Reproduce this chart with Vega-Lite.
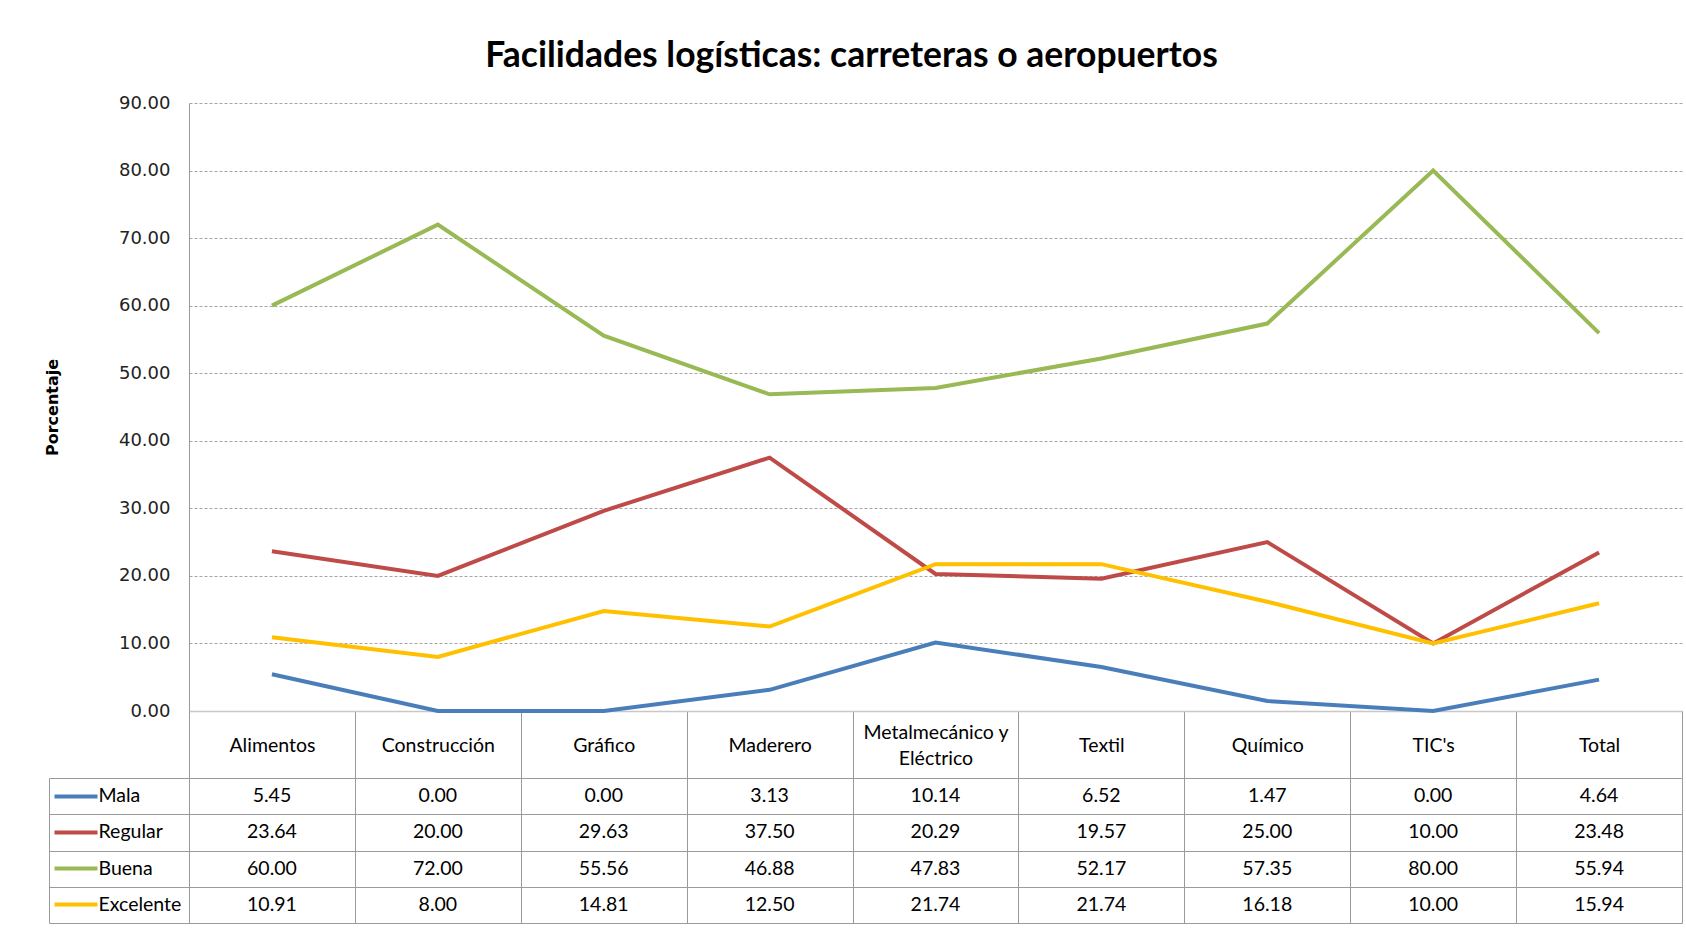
{
  "$schema": "https://vega.github.io/schema/vega-lite/v6.json",
  "padding": {"left": 44, "top": 38, "right": 6, "bottom": 4},
  "background": "white",
  "title": {"text": "Facilidades logísticas: carreteras o aeropuertos", "font": "Lato", "fontWeight": "bold", "fontSize": 35.5, "color": "#000000", "anchor": "middle", "dx": -12, "offset": 20},
  "datasets": {
    "datos": [
      {"categoria": "Alimentos", "serie": "Mala", "valor": 5.45},
      {"categoria": "Construcción", "serie": "Mala", "valor": 0.00},
      {"categoria": "Gráfico", "serie": "Mala", "valor": 0.00},
      {"categoria": "Maderero", "serie": "Mala", "valor": 3.13},
      {"categoria": "Metalmecánico y Eléctrico", "serie": "Mala", "valor": 10.14},
      {"categoria": "Textil", "serie": "Mala", "valor": 6.52},
      {"categoria": "Químico", "serie": "Mala", "valor": 1.47},
      {"categoria": "TIC's", "serie": "Mala", "valor": 0.00},
      {"categoria": "Total", "serie": "Mala", "valor": 4.64},
      {"categoria": "Alimentos", "serie": "Regular", "valor": 23.64},
      {"categoria": "Construcción", "serie": "Regular", "valor": 20.00},
      {"categoria": "Gráfico", "serie": "Regular", "valor": 29.63},
      {"categoria": "Maderero", "serie": "Regular", "valor": 37.50},
      {"categoria": "Metalmecánico y Eléctrico", "serie": "Regular", "valor": 20.29},
      {"categoria": "Textil", "serie": "Regular", "valor": 19.57},
      {"categoria": "Químico", "serie": "Regular", "valor": 25.00},
      {"categoria": "TIC's", "serie": "Regular", "valor": 10.00},
      {"categoria": "Total", "serie": "Regular", "valor": 23.48},
      {"categoria": "Alimentos", "serie": "Buena", "valor": 60.00},
      {"categoria": "Construcción", "serie": "Buena", "valor": 72.00},
      {"categoria": "Gráfico", "serie": "Buena", "valor": 55.56},
      {"categoria": "Maderero", "serie": "Buena", "valor": 46.88},
      {"categoria": "Metalmecánico y Eléctrico", "serie": "Buena", "valor": 47.83},
      {"categoria": "Textil", "serie": "Buena", "valor": 52.17},
      {"categoria": "Químico", "serie": "Buena", "valor": 57.35},
      {"categoria": "TIC's", "serie": "Buena", "valor": 80.00},
      {"categoria": "Total", "serie": "Buena", "valor": 55.94},
      {"categoria": "Alimentos", "serie": "Excelente", "valor": 10.91},
      {"categoria": "Construcción", "serie": "Excelente", "valor": 8.00},
      {"categoria": "Gráfico", "serie": "Excelente", "valor": 14.81},
      {"categoria": "Maderero", "serie": "Excelente", "valor": 12.50},
      {"categoria": "Metalmecánico y Eléctrico", "serie": "Excelente", "valor": 21.74},
      {"categoria": "Textil", "serie": "Excelente", "valor": 21.74},
      {"categoria": "Químico", "serie": "Excelente", "valor": 16.18},
      {"categoria": "TIC's", "serie": "Excelente", "valor": 10.00},
      {"categoria": "Total", "serie": "Excelente", "valor": 15.94}
    ]
  },
  "spacing": 67,
  "bounds": "flush",
  "config": {
    "view": {"stroke": null},
    "axis": {"labelFont": "Lato", "titleFont": "DejaVu Sans"}
  },
  "vconcat": [
    {
      "width": 1493,
      "height": 608,
      "data": {"name": "datos"},
      "mark": {"type": "line", "strokeWidth": 4, "interpolate": "linear"},
      "encoding": {
        "x": {
          "field": "categoria", "type": "nominal", "bandPosition": 0.5,
          "sort": ["Alimentos", "Construcción", "Gráfico", "Maderero", "Metalmecánico y Eléctrico", "Textil", "Químico", "TIC's", "Total"],
          "scale": {"type": "band", "paddingInner": 0, "paddingOuter": 0},
          "axis": {
            "title": null, "labelAngle": 0, "domain": true, "domainColor": "#c8c8c8", "domainWidth": 1.5,
            "ticks": true, "tickBand": "extent", "tickSize": 67, "tickColor": "#999999", "tickWidth": 1,
            "grid": false, "labelFont": "Lato", "labelFontSize": 19.5, "labelColor": "#000000",
            "labelBaseline": "middle", "labelLineHeight": 26,
            "labelPadding": {"condition": {"test": "datum.value === 'Metalmecánico y Eléctrico'", "value": -46}, "value": -33},
            "labelExpr": "datum.label == 'Metalmecánico y Eléctrico' ? ['Metalmecánico y', 'Eléctrico'] : datum.label"
          }
        },
        "y": {
          "field": "valor", "type": "quantitative",
          "scale": {"domain": [0, 90], "nice": false, "zero": true},
          "axis": {
            "title": "Porcentaje", "titleFont": "DejaVu Sans", "titleFontWeight": "bold", "titleFontSize": 16, "titleColor": "#000000", "titlePadding": 58,
            "values": [0, 10, 20, 30, 40, 50, 60, 70, 80, 90], "format": ".2f",
            "labelFont": "DejaVu Sans", "labelFontSize": 18, "labelColor": "#222222", "labelPadding": 19,
            "ticks": false, "domain": true, "domainColor": "#999999",
            "grid": true, "gridColor": "#a6a6a6", "gridDash": [3, 2], "gridWidth": 1
          }
        },
        "color": {
          "field": "serie", "type": "nominal",
          "scale": {"domain": ["Mala", "Regular", "Buena", "Excelente"], "range": ["#4a7ebb", "#be4b48", "#98b954", "#ffc000"]},
          "legend": null
        },
        "order": {"field": "serie"}
      }
    },
    {
      "width": 1493,
      "height": 145,
      "data": {"name": "datos"},
      "layer": [
        {
          "mark": {"type": "text", "font": "Lato", "fontSize": 19.5, "color": "#000000", "baseline": "middle"},
          "encoding": {
            "x": {
              "field": "categoria", "type": "nominal",
              "sort": ["Alimentos", "Construcción", "Gráfico", "Maderero", "Metalmecánico y Eléctrico", "Textil", "Químico", "TIC's", "Total"],
              "scale": {"type": "band", "paddingInner": 0, "paddingOuter": 0},
              "axis": {"title": null, "orient": "top", "labels": false, "ticks": false, "domain": false, "grid": true, "tickBand": "extent", "gridColor": "#9a9a9a", "gridWidth": 1}
            },
            "y": {
              "field": "serie", "type": "nominal",
              "sort": ["Mala", "Regular", "Buena", "Excelente"],
              "scale": {"type": "band", "paddingInner": 0, "paddingOuter": 0},
              "axis": {"title": null, "labels": false, "ticks": true, "tickBand": "extent", "tickSize": 140, "tickColor": "#9a9a9a", "tickWidth": 1, "domain": true, "domainColor": "#9a9a9a", "grid": true, "gridColor": "#9a9a9a", "gridWidth": 1}
            },
            "text": {"field": "valor", "type": "quantitative", "format": ".2f"}
          }
        },
        {
          "mark": {"type": "rect", "fill": "transparent", "strokeWidth": 0},
          "encoding": {
            "x": {
              "field": "categoria", "type": "nominal",
              "sort": ["Alimentos", "Construcción", "Gráfico", "Maderero", "Metalmecánico y Eléctrico", "Textil", "Químico", "TIC's", "Total"]
            },
            "y": {
              "field": "serie", "type": "nominal",
              "sort": ["Mala", "Regular", "Buena", "Excelente"],
              "axis": {
                "title": null, "orient": "left", "offset": 140, "domain": true, "domainColor": "#9a9a9a",
                "ticks": true, "tickSize": -48, "tickWidth": 4, "tickDash": [0, 5, 43, 20],
                "tickColor": {"condition": [
                  {"test": "datum.value === 'Mala'", "value": "#4a7ebb"},
                  {"test": "datum.value === 'Regular'", "value": "#be4b48"},
                  {"test": "datum.value === 'Buena'", "value": "#98b954"}
                ], "value": "#ffc000"},
                "labels": true, "labelAlign": "left", "labelBaseline": "middle", "labelPadding": -1,
                "labelFont": "Lato", "labelFontSize": 19.5, "labelColor": "#000000", "grid": false
              }
            }
          }
        }
      ],
      "resolve": {"axis": {"y": "independent"}}
    }
  ]
}
